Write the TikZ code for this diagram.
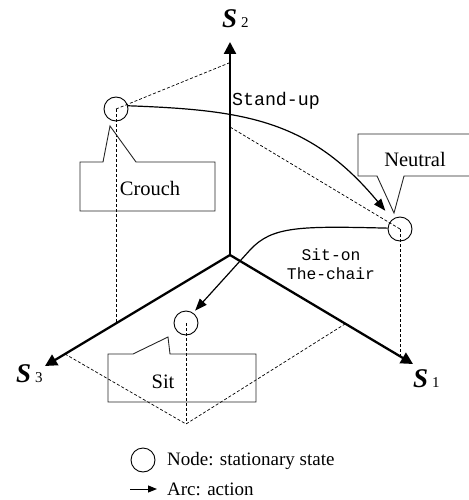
\documentclass[tikz,border=0pt]{standalone}
\usepackage{fontspec}
\setmainfont{Liberation Serif}
\setmonofont{Liberation Mono}
\usetikzlibrary{arrows.meta,positioning,calc}
\newcommand{\axname}[1]{\textbf{\textit{S}}\hspace{4pt}{\fontsize{15}{15}\selectfont #1}}
\tikzset{
  % achsen
  axis/.style={-{Triangle[length=12pt,width=12pt]},line width=2.3pt},
  axlbl/.style={font=\fontsize{27}{27}\selectfont,inner sep=0pt,anchor=base west},
  proj/.style={line width=0.7pt,dash pattern=on 3pt off 2pt},
  % zustaende
  st/.style={circle,draw,line width=0.9pt,minimum size=24pt,inner sep=0pt},
  act/.style={-{Triangle[length=12pt,width=9pt]},line width=1.2pt},
  actlbl/.style={font=\ttfamily,inner sep=0pt,align=center},
  callout/.style={draw=black!85,line width=0.9pt},
  boxlbl/.style={font=\fontsize{20.5}{24}\selectfont,inner sep=0pt},
  leglbl/.style={font=\fontsize{19}{22}\selectfont,inner sep=0pt,anchor=west},
}
\begin{document}
\begin{tikzpicture}[x=1pt,y=-1pt]
\useasboundingbox (0,0) rectangle (468,500);
  \coordinate (O) at (230,255);
  \coordinate (s1end) at (413,364);
  \coordinate (s2end) at (230,42);
  \coordinate (s3end) at (45,366);
  % states
  \node[st] (crouch) at (116,109) {};
  \node[st] (neutral) at (400,229) {};
  \node[st] (sit) at (186,323) {};
  % projections
  \coordinate (c2) at (229,63);
  \coordinate (c3) at (116,323);
  \coordinate (n2) at (230,127);
  \coordinate (n1) at (400,356);
  \coordinate (sfoot) at (186,424);
  \coordinate (s3p) at (65,354);
  \coordinate (s1p) at (345,324);
  \draw[proj] (crouch.center) -- (c2);
  \draw[proj] (crouch.center) -- (c3);
  \draw[proj] (neutral.center) -- (n2);
  \draw[proj] (neutral.center) -- (n1);
  \draw[proj] (sit.center) -- (sfoot);
  \draw[proj] (s3p) -- (sfoot) -- (s1p);
  % axes
  \draw[axis] (O) -- (s2end);
  \draw[axis] (O) -- (s1end);
  \draw[axis] (O) -- (s3end);
  \node[axlbl] (s2lbl) at (222,28) {\axname{2}};
  \node[axlbl] (s1lbl) at (413,387) {\axname{1}};
  \node[axlbl] (s3lbl) at (16,382) {\axname{3}};
  % callouts
  \draw[callout] (80,162) -- (103,162) -- (110,126) -- (136,162) -- (215,162)
    -- (215,211) -- (80,211) -- cycle;
  \node[boxlbl] (crouchlbl) at (150,188) {Crouch};
  \draw[callout] (358,134) -- (475,134) -- (475,176) -- (404,176) -- (394,213)
    -- (377,176) -- (358,176) -- cycle;
  \node[boxlbl] (neutrallbl) at (415,159) {Neutral};
  \draw[callout] (108,354) -- (133,354) -- (168,337) -- (170,354) -- (256,354)
    -- (256,402) -- (108,402) -- cycle;
  \node[boxlbl] (sitlbl) at (163,382) {Sit};
  % actions
  \draw[act,shorten >=11pt] (crouch.15) .. controls (245,110) and (310,120) .. (neutral.128);
  \node[actlbl,font=\fontsize{18.3}{20}\selectfont\ttfamily] (standup) at (276,101) {Stand-up};
  \draw[act,shorten >=3pt] (neutral.176) .. controls (300,226) and (272,226) .. (250,250) -- (sit.55);
  \node[actlbl,font=\fontsize{16.3}{19}\selectfont\ttfamily] (siton) at (331,264) {Sit-on\\The-chair};
  % legend
  \node[st] (legnode) at (143,460) {};
  \node[leglbl] (legnodetxt) at (167,461) {Node: stationary state};
  \node[leglbl] (legarctxt) at (167,489) {Arc: action};
  \coordinate (legarc) at (130,489);
  \draw[-{Triangle[length=9pt,width=7pt]},line width=1pt,shorten >=10pt] (legarc) -- (legarctxt.west);
\end{tikzpicture}
\end{document}
